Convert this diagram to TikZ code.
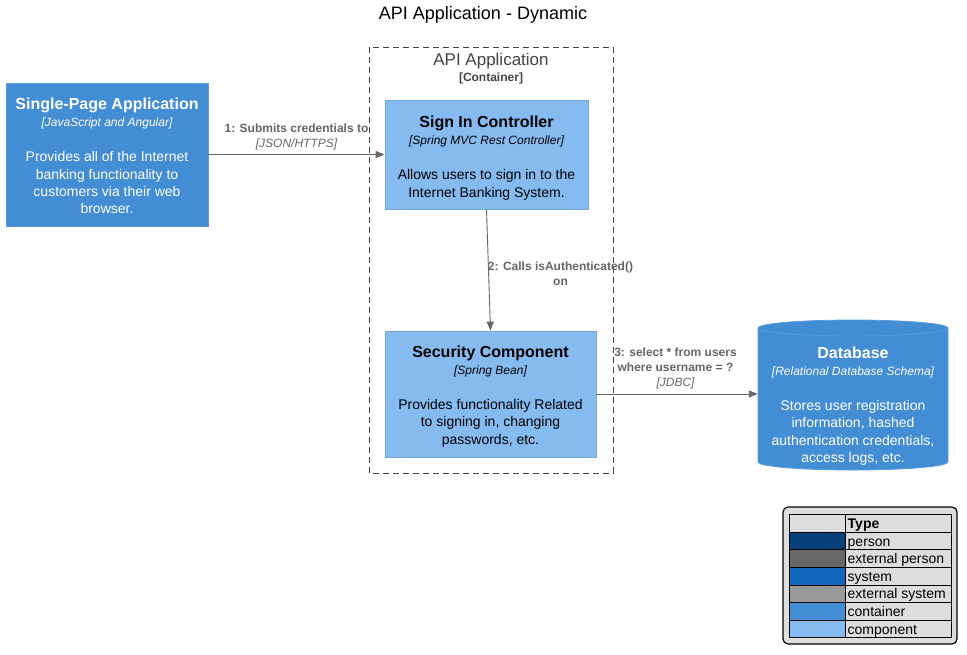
\documentclass[tikz,border=0pt]{standalone}
\usepackage{fontspec}
\setmainfont{Liberation Sans}
\usetikzlibrary{arrows.meta}
\definecolor{contfill}{HTML}{438DD5}
\definecolor{contborder}{HTML}{5A9BDA}
\definecolor{compfill}{HTML}{85BBF0}
\definecolor{compborder}{HTML}{78A8D8}
\definecolor{relgray}{HTML}{666666}
\definecolor{bndgray}{HTML}{444444}
\definecolor{legbg}{HTML}{DDDDDD}
\definecolor{cperson}{HTML}{08427B}
\definecolor{cextperson}{HTML}{686868}
\definecolor{csystem}{HTML}{1168BD}
\definecolor{cextsystem}{HTML}{999999}
\tikzset{
  box/.style={draw, line width=0.8pt, inner sep=0pt},
  containerbox/.style={box, fill=contfill, draw=contborder},
  componentbox/.style={box, fill=compfill, draw=compborder},
  boxtext/.style={align=center, inner sep=0pt, font=\fontsize{14}{17.4}\selectfont},
  rel/.style={draw=relgray, line width=0.9pt, -{Triangle[length=9pt,width=7pt]}, color=relgray},
  rellabel/.style={align=center, text=relgray, inner sep=0pt, font=\fontsize{12}{15}\selectfont},
  legcell/.style={draw=black, line width=0.8pt, minimum height=17.6pt, inner sep=0pt, anchor=north west, outer sep=0pt},
  legtext/.style={anchor=base west, inner sep=0pt, font=\fontsize{14}{16}\selectfont}
}
\newcommand{\ttl}[1]{{\fontsize{16}{19}\selectfont\bfseries #1}}
\newcommand{\stt}[1]{{\fontsize{12}{15}\selectfont\itshape #1}}
\begin{document}
\begin{tikzpicture}[x=1pt,y=-1pt]
\useasboundingbox (0,0) rectangle (967,654);
% title
\node[inner sep=0pt, font=\fontsize{18}{20}\selectfont] (title) at (483,15) {API Application - Dynamic};

% boundary
\draw[draw=bndgray, line width=0.9pt, dash pattern=on 6pt off 4pt] (369,47) rectangle (613,473);
\node[inner sep=0pt, text=bndgray, font=\fontsize{17}{19}\selectfont] (bndtitle) at (491,61.5) {API Application};
\node[inner sep=0pt, text=bndgray, font=\fontsize{12}{14}\selectfont\bfseries] (bndstereo) at (491,78) {[Container]};

% SPA
\node[containerbox, minimum width=202pt, minimum height=143pt] (spa) at (107,154.5) {};
\node[boxtext, text=white] (spatext) at (107,156)
 {\ttl{Single-Page Application}\\
  \stt{[JavaScript and Angular]}\\[17.4pt]
  Provides all of the Internet\\ banking functionality to\\ customers via their web\\ browser.};

% Sign in controller
\node[componentbox, minimum width=203pt, minimum height=109pt] (signin) at (486.5,154.5) {};
\node[boxtext] (signintext) at (486.5,158)
 {\ttl{Sign In Controller}\\
  \stt{[Spring MVC Rest Controller]}\\[17.4pt]
  Allows users to sign in to the\\ Internet Banking System.};

% Security component
\node[componentbox, minimum width=211pt, minimum height=126pt] (sec) at (490.5,394) {};
\node[boxtext] (sectext) at (490.5,396.5)
 {\ttl{Security Component}\\
  \stt{[Spring Bean]}\\[17.4pt]
  Provides functionality Related\\ to signing in, changing\\ passwords, etc.};

% Database
\node[minimum width=190pt, minimum height=150pt, inner sep=0pt] (db) at (853,395) {};
\fill[contfill] (758,328) -- (758,462) arc[start angle=180, end angle=0, x radius=95, y radius=8] -- (948,328) arc[start angle=0, end angle=-180, x radius=95, y radius=8] -- cycle;
\draw[contborder, line width=0.8pt] (758,328) -- (758,462) arc[start angle=180, end angle=0, x radius=95, y radius=8] -- (948,328) arc[start angle=0, end angle=-180, x radius=95, y radius=8] -- cycle;
\draw[contborder, line width=0.8pt] (758,328) arc[start angle=180, end angle=0, x radius=95, y radius=8];
\node[boxtext, text=white] (dbtext) at (853,406)
 {\ttl{Database}\\
  \stt{[Relational Database Schema]}\\[17.4pt]
  Stores user registration\\ information, hashed\\ authentication credentials,\\ access logs, etc.};

% relations
\draw[rel] (spa.east) -- (signin.west);
\node[rellabel] (l1) at (296.5,137)
 {\bfseries 1: Submits credentials to\\ \itshape [JSON/HTTPS]};

\draw[rel] (signin.south) -- (sec.north);
\node[rellabel, font=\fontsize{12}{15}\selectfont\bfseries] (l2) at (560.5,273.5)
 {2: Calls isAuthenticated()\\ on};

\draw[rel] (sec.east) -- (sec.east -| db.west);
\node[rellabel] (l3) at (675.5,368.5)
 {\bfseries 3: select * from users\\ \bfseries where username = ?\\ \itshape [JDBC]};

% legend
\draw[fill=legbg, draw=black, line width=1.2pt, rounded corners=5pt] (783,507) rectangle (957,644);
\node[legcell, minimum width=56pt, fill=legbg] (h1) at (789,514.5) {};
\node[legcell, minimum width=106pt, fill=legbg] (h2) at (845,514.5) {};
\node[legtext, font=\fontsize{14}{16}\selectfont\bfseries] (ht) at (847.5,528.5) {Type};
\node[legcell, minimum width=56pt, fill=cperson] (c1) at (789,532.1) {};
\node[legcell, minimum width=106pt, fill=legbg] (t1) at (845,532.1) {};
\node[legtext] (n1) at (847.5,546.1) {person};
\node[legcell, minimum width=56pt, fill=cextperson] (c2) at (789,549.7) {};
\node[legcell, minimum width=106pt, fill=legbg] (t2) at (845,549.7) {};
\node[legtext] (n2) at (847.5,563.7) {external person};
\node[legcell, minimum width=56pt, fill=csystem] (c3) at (789,567.3) {};
\node[legcell, minimum width=106pt, fill=legbg] (t3) at (845,567.3) {};
\node[legtext] (n3) at (847.5,581.3) {system};
\node[legcell, minimum width=56pt, fill=cextsystem] (c4) at (789,584.9) {};
\node[legcell, minimum width=106pt, fill=legbg] (t4) at (845,584.9) {};
\node[legtext] (n4) at (847.5,598.9) {external system};
\node[legcell, minimum width=56pt, fill=contfill] (c5) at (789,602.5) {};
\node[legcell, minimum width=106pt, fill=legbg] (t5) at (845,602.5) {};
\node[legtext] (n5) at (847.5,616.5) {container};
\node[legcell, minimum width=56pt, fill=compfill] (c6) at (789,620.1) {};
\node[legcell, minimum width=106pt, fill=legbg] (t6) at (845,620.1) {};
\node[legtext] (n6) at (847.5,634.1) {component};
\end{tikzpicture}
\end{document}
